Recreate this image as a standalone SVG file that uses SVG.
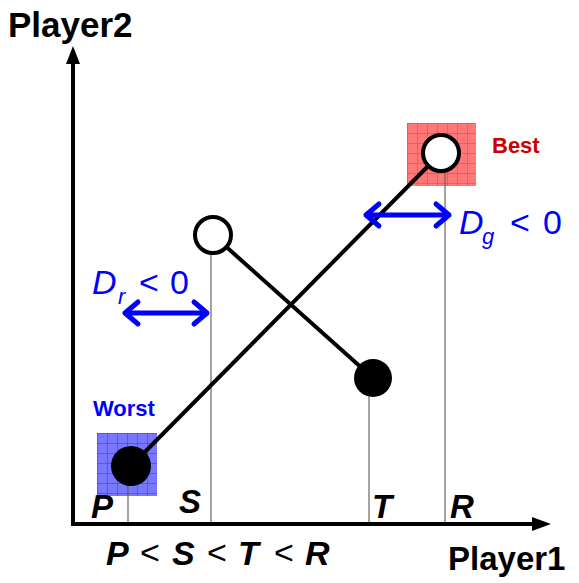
<svg xmlns="http://www.w3.org/2000/svg" width="579" height="583" viewBox="0 0 579 583">
<style>
.axis{stroke:#000;stroke-width:4;fill:none}
.guide{stroke:#666;stroke-width:1.2}
.link{stroke:#000;stroke-width:4}
.lbl{font-family:"Liberation Sans",Arial,sans-serif;font-weight:bold;fill:#000}
.it{font-style:italic}
.reg{font-family:"Liberation Sans",Arial,sans-serif;fill:#000}
.blue{font-family:"Liberation Sans",Arial,sans-serif;fill:#0000ff}
.darr{stroke:#0000ff;stroke-width:5;fill:none;stroke-linecap:round;stroke-linejoin:round}
</style>
<defs>
<pattern id="gridR" width="10" height="10" patternUnits="userSpaceOnUse" x="407" y="123">
<rect width="10" height="10" fill="#ff7777"/>
<path d="M0 0H10M0 0V10" stroke="#ff3333" stroke-width="1"/>
</pattern>
<pattern id="gridB" width="10" height="10" patternUnits="userSpaceOnUse" x="97" y="433">
<rect width="10" height="10" fill="#7777ff"/>
<path d="M0 0H10M0 0V10" stroke="#3333ff" stroke-width="1"/>
</pattern>
</defs>
<g id="axes">
<path class="axis" d="M73 526V62"/>
<path d="M66 64L73 46L80 64z" fill="#000"/>
<path class="axis" d="M71 524H534"/>
<path d="M532 517L551 524L532 531z" fill="#000"/>
</g>
<g id="best-box"><rect x="407" y="123" width="69" height="63" fill="url(#gridR)"/></g>
<g id="worst-box"><rect x="97" y="433" width="60" height="63" fill="url(#gridB)"/></g>
<g id="connectors">
<line class="guide" x1="128" y1="480" x2="128" y2="522"/>
<line class="guide" x1="211" y1="250" x2="211" y2="522"/>
<line class="guide" x1="369" y1="390" x2="369" y2="522"/>
<line class="guide" x1="445" y1="165" x2="445" y2="522"/>
<line class="link" x1="131" y1="466" x2="441" y2="153"/>
<line class="link" x1="213" y1="235" x2="373" y2="378"/>
</g>
<g id="node-best"><circle cx="441" cy="153" r="18" fill="#fff" stroke="#000" stroke-width="4"/></g>
<g id="node-s"><circle cx="213" cy="235" r="18" fill="#fff" stroke="#000" stroke-width="4"/></g>
<g id="node-t"><circle cx="373" cy="378" r="19" fill="#000"/></g>
<g id="node-p"><circle cx="131" cy="466" r="20" fill="#000"/></g>
<g id="dr">
<path class="darr" d="M125 313H207M138 302L125 313L138 324M194 302L207 313L194 324"/>
<text class="blue it" x="92" y="294" font-size="34">D</text>
<text class="blue it" x="118" y="304" font-size="22">r</text>
<text class="blue" x="139" y="294" font-size="34">&lt;</text>
<text class="blue" x="170" y="294" font-size="34">0</text>
</g>
<g id="dg">
<path class="darr" d="M366 215H449M379 204L366 215L379 226M436 204L449 215L436 226"/>
<text class="blue it" x="459" y="234" font-size="34">D</text>
<text class="blue it" x="482" y="244" font-size="22">g</text>
<text class="blue" x="510" y="234" font-size="34">&lt;</text>
<text class="blue" x="543" y="234" font-size="34">0</text>
</g>
<g id="labels">
<text class="lbl" x="492" y="153" font-size="22" style="fill:#cc0000">Best</text>
<text class="lbl" x="93" y="416" font-size="22" style="fill:#0000ff">Worst</text>
<text class="lbl" x="8" y="37" font-size="35">Player2</text>
<text class="lbl" x="448" y="570" font-size="33">Player1</text>
<text class="lbl it" x="91" y="518" font-size="33">P</text>
<text class="lbl it" x="179" y="513" font-size="33">S</text>
<text class="lbl it" x="372" y="518" font-size="33">T</text>
<text class="lbl it" x="450" y="518" font-size="33">R</text>
<text class="lbl it" x="106" y="565" font-size="34">P</text>
<text class="reg" x="140" y="564" font-size="34">&lt;</text>
<text class="lbl it" x="172" y="565" font-size="34">S</text>
<text class="reg" x="207" y="564" font-size="34">&lt;</text>
<text class="lbl it" x="238" y="565" font-size="34">T</text>
<text class="reg" x="274" y="564" font-size="34">&lt;</text>
<text class="lbl it" x="305" y="565" font-size="34">R</text>
</g>
</svg>
